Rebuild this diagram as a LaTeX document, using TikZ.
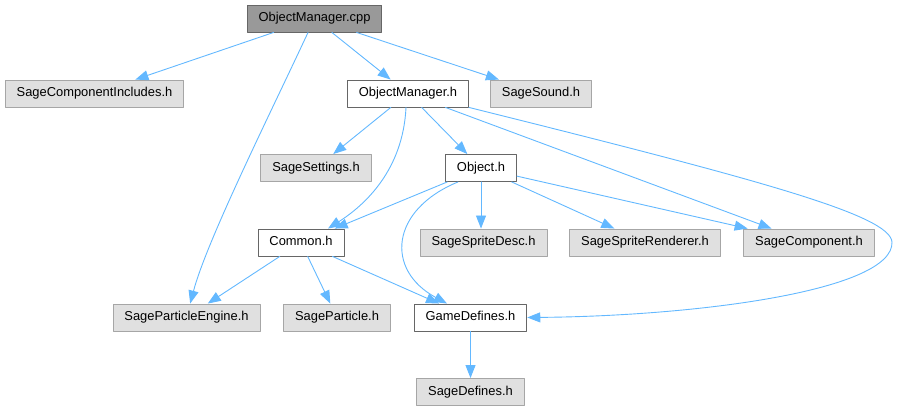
\documentclass[tikz,border=0pt]{standalone}
\usepackage{fontspec}
\setmainfont{Liberation Sans}
\usetikzlibrary{arrows.meta}
\definecolor{edgeblue}{HTML}{63B8FF}
\definecolor{rootgray}{HTML}{999999}
\definecolor{extgray}{HTML}{E0E0E0}
\definecolor{extline}{HTML}{A6A6A6}
\definecolor{fileline}{HTML}{666666}
\begin{document}
\begin{tikzpicture}[x=1pt,y=-1pt,line cap=round,line join=round,
  >={Triangle[length=13pt,width=10pt]},
  file/.style={draw=fileline,line width=0.9pt,fill=white,minimum height=27pt,
    inner xsep=11.5pt,inner ysep=0pt,text height=9.4pt,text depth=2.8pt,
    font=\fontsize{12.9}{14}\selectfont},
  rootfile/.style={file,fill=rootgray},
  extfile/.style={file,draw=extline,fill=extgray},
  dep/.style={draw=edgeblue,line width=0.9pt,->}]
  \useasboundingbox (0,0) rectangle (897,411);
  % files
  \node[rootfile] (cpp) at (314.5,18.5) {ObjectManager.cpp};
  \node[extfile] (sci) at (94.5,93.5) {SageComponentIncludes.h};
  \node[file] (omh) at (408,93.5) {ObjectManager.h};
  \node[extfile] (sound) at (541,93.5) {SageSound.h};
  \node[extfile] (settings) at (316,168) {SageSettings.h};
  \node[file] (obj) at (481,168) {Object.h};
  \node[file] (common) at (301,242.5) {Common.h};
  \node[extfile] (spdesc) at (483.5,242.5) {SageSpriteDesc.h};
  \node[extfile] (sprend) at (645,242.5) {SageSpriteRenderer.h};
  \node[extfile] (comp) at (809,242.5) {SageComponent.h};
  \node[extfile] (spe) at (186.5,317.5) {SageParticleEngine.h};
  \node[extfile] (part) at (337,317.5) {SageParticle.h};
  \node[file] (gd) at (470.5,317.5) {GameDefines.h};
  \node[extfile] (sdef) at (470.5,392) {SageDefines.h};
  % includes
  \draw[dep] (cpp) -- (sci);
  \draw[dep] (cpp) .. controls (272,110) and (207,240) .. (spe);
  \draw[dep] (cpp) -- (omh);
  \draw[dep] (cpp) -- (sound);
  \draw[dep] (omh) -- (settings);
  \draw[dep] ([xshift=-2pt]omh.south) .. controls (403,170) and (365,205) .. ([xshift=27pt]common.north);
  \draw[dep] (omh) -- (obj);
  \draw[dep] (omh) -- (comp);
  \draw[dep] (omh.south east) .. controls (760,180) and (890,215) .. (892,242)
    .. controls (894,290) and (700,316) .. (gd.east);
  \draw[dep] (obj) -- (common);
  \draw[dep] ([xshift=-23pt]obj.south) .. controls (390,210) and (385,270) .. ([xshift=-23.5pt]gd.north);
  \draw[dep] (obj.south) -- (obj.south |- spdesc.north);
  \draw[dep] (obj) -- (sprend);
  \draw[dep] (obj) -- (comp);
  \draw[dep] (common) -- (spe);
  \draw[dep] (common) -- (part);
  \draw[dep] (common) -- (gd);
  \draw[dep] (gd) -- (sdef);
\end{tikzpicture}
\end{document}
